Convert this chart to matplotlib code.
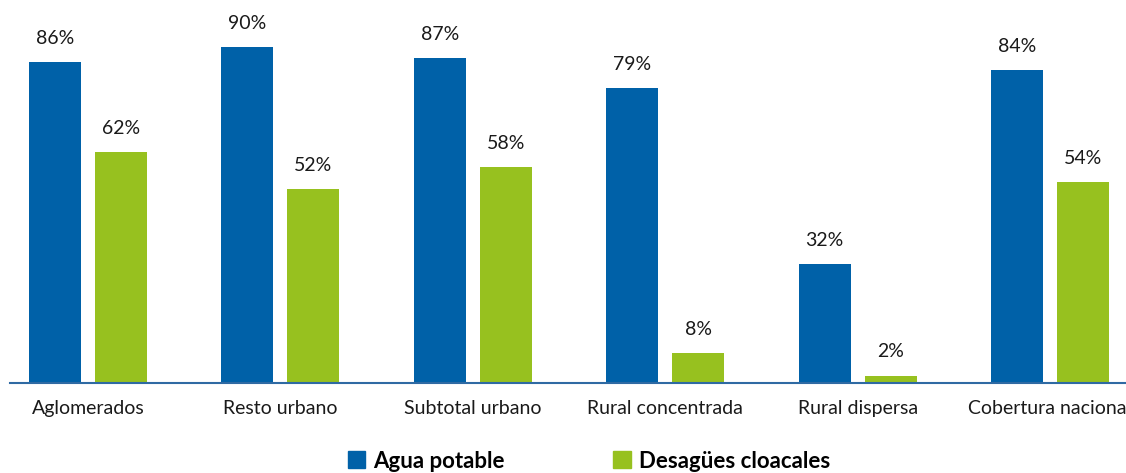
import numpy as np
import matplotlib.pyplot as plt
from matplotlib.patches import Patch

categories = ["Aglomerados", "Resto urbano", "Subtotal urbano",
              "Rural concentrada", "Rural dispersa", "Cobertura nacional"]
agua = [86, 90, 87, 79, 32, 84]
desagues = [62, 52, 58, 8, 2, 54]
series_names = ["Agua potable", "Desagües cloacales"]

blue = "#0061a8"
green = "#97c11f"

plt.rcParams['font.family'] = ['Lato', 'DejaVu Sans']

fig = plt.figure(figsize=(11.26, 4.73), dpi=100)
ax = fig.add_axes([10 / 1126, 90 / 473, 1116 / 1126, 383 / 473])

pitch = 192.4
x = np.arange(len(categories))
w = 52 / pitch
off = 33 / pitch
b1 = ax.bar(x - off, agua, w, color=blue)
b2 = ax.bar(x + off, desagues, w, color=green)

for bars, vals in ((b1, agua), (b2, desagues)):
    for rect, v in zip(bars, vals):
        ax.annotate(f"{v}%", (rect.get_x() + rect.get_width() / 2, rect.get_height()),
                    xytext=(0, 13), textcoords="offset points",
                    ha="center", va="baseline", fontsize=14, color="#1a1a1a")

ax.set_xlim(-78 / pitch, 5 + 76 / pitch)
ax.set_ylim(0, 383 / 3.73)
ax.set_xticks(x)
ax.set_xticklabels(categories, fontsize=14, color="#1a1a1a")
ax.tick_params(axis="x", length=0, pad=12)
ax.set_yticks([])
for s in ["top", "right", "left"]:
    ax.spines[s].set_visible(False)
ax.spines["bottom"].set_color("#2f6aa3")
ax.spines["bottom"].set_linewidth(1.5)

handles = [Patch(color=blue), Patch(color=green)]
leg = fig.legend(handles, series_names, loc="center", bbox_to_anchor=(0.523, 0.025),
                 ncol=2, frameon=False, columnspacing=4.9, handlelength=0.8,
                 handleheight=0.8, handletextpad=0.35,
                 prop={"weight": "bold", "size": 16})

fig.savefig("out.png", dpi=100)
